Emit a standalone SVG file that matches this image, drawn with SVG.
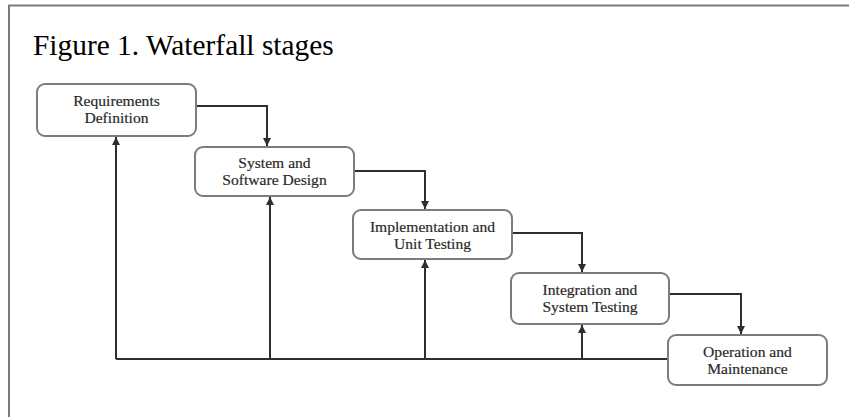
<svg xmlns="http://www.w3.org/2000/svg" width="849" height="417" viewBox="0 0 849 417">
<style>
.frame{fill:none;stroke:#7a7a7a;stroke-width:2}
.box{fill:#fff;stroke:#7c7c7c;stroke-width:2}
.lbl{font-family:"Liberation Serif","Times New Roman",serif;font-size:15.6px;fill:#2a2a2a;text-anchor:middle;stroke:#2a2a2a;stroke-width:0.2}
.title{font-family:"Liberation Serif","Times New Roman",serif;font-size:29.4px;fill:#000}
.con{fill:none;stroke:#2e2e2e;stroke-width:2}
</style>
<defs>
<marker id="ah" viewBox="0 0 8 8" refX="8" refY="4" markerWidth="4" markerHeight="4" orient="auto" markerUnits="strokeWidth">
<path d="M0,0 L8,4 L0,8 Z" fill="#2e2e2e"/>
</marker>
</defs>
<rect width="849" height="417" fill="#fff"/>
<path class="frame" d="M9,417 V5.5 H849"/>
<text class="title" x="33" y="55">Figure 1. Waterfall stages</text>
<g id="connectors">
<polyline class="con" points="196,106 267,106 267,146" marker-end="url(#ah)"/>
<polyline class="con" points="354,171 425,171 425,209" marker-end="url(#ah)"/>
<polyline class="con" points="512,233 582,233 582,272" marker-end="url(#ah)"/>
<polyline class="con" points="669,294 741,294 741,334" marker-end="url(#ah)"/>
<polyline class="con" points="668,359 116,359"/>
<line class="con" x1="116" y1="359" x2="116" y2="137" marker-end="url(#ah)"/>
<line class="con" x1="270" y1="359" x2="270" y2="197" marker-end="url(#ah)"/>
<line class="con" x1="425" y1="359" x2="425" y2="260" marker-end="url(#ah)"/>
<line class="con" x1="582" y1="359" x2="582" y2="325" marker-end="url(#ah)"/>
</g>
<g id="n1">
<rect class="box" x="37" y="84" width="159" height="52" rx="8"/>
<text class="lbl" x="116.5" y="106">Requirements</text>
<text class="lbl" x="116.5" y="123">Definition</text>
</g>
<g id="n2">
<rect class="box" x="195" y="147" width="159" height="49" rx="8"/>
<text class="lbl" x="274.5" y="168">System and</text>
<text class="lbl" x="274.5" y="185">Software Design</text>
</g>
<g id="n3">
<rect class="box" x="353" y="210" width="159" height="49" rx="8"/>
<text class="lbl" x="432.5" y="232">Implementation and</text>
<text class="lbl" x="432.5" y="249">Unit Testing</text>
</g>
<g id="n4">
<rect class="box" x="511" y="273" width="158" height="51" rx="8"/>
<text class="lbl" x="590" y="295">Integration and</text>
<text class="lbl" x="590" y="312">System Testing</text>
</g>
<g id="n5">
<rect class="box" x="668" y="335" width="159" height="50" rx="8"/>
<text class="lbl" x="747.5" y="357">Operation and</text>
<text class="lbl" x="747.5" y="374">Maintenance</text>
</g>
</svg>
